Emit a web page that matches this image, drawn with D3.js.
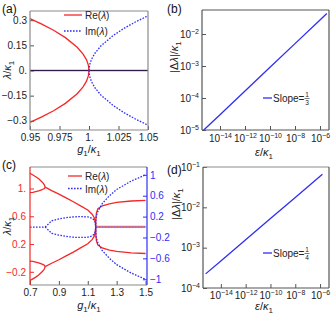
<!DOCTYPE html>
<html lang="en">
<head>
<meta charset="UTF-8">
<title>EP eigenvalues</title>
<script src="https://d3js.org/d3.v7.min.js"></script>
<style>
    body { margin: 0; background: #fff; }
    svg text { font-family: "Liberation Sans", Arial, sans-serif; }
    .tick text { font-size: 10px; }
    .plabel { font-size: 12px; }
    .alabel { font-size: 11px; }
    .leg { font-size: 10px; }
</style>
</head>
<body>
<div id="chart"></div>
<script>
// ---------- panel (a) ----------
var gReA = [0.95, 0.96, 0.97, 0.98, 0.99, 0.995, 0.998, 0.9995, 1.0];
var reUpA = [0.31, 0.277, 0.24, 0.196, 0.139, 0.098, 0.062, 0.031, 0];
var reLoA = [-0.31, -0.277, -0.24, -0.196, -0.139, -0.098, -0.062, -0.031, 0];
var gImA = [1.0, 1.0005, 1.002, 1.005, 1.01, 1.02, 1.03, 1.04, 1.05];
var imUpA = [0, 0.033, 0.065, 0.103, 0.146, 0.206, 0.253, 0.292, 0.326];
var imLoA = [0, -0.033, -0.065, -0.103, -0.146, -0.206, -0.253, -0.292, -0.326];
var gZeroA = [0.95, 1.05];
var xTicksA = [0.95, 0.975, 1, 1.025, 1.05];
var xLabelsA = ["0.95", "0.975", "1.", "1.025", "1.05"];
var yTicksA = [-0.3, -0.15, 0, 0.15, 0.3];
var yLabelsA = ["\u22120.3", "\u22120.15", "0.", "0.15", "0.3"];

// ---------- panel (b) ----------
var epsB = [5e-16, 1e-14, 1e-12, 1e-10, 1e-8, 1e-6, 3.5e-6];
var deltaB = [1.0e-5, 3.0e-5, 1.66e-4, 9.1e-4, 5.0e-3, 2.75e-2, 4.4e-2];
var xExpB = [-14, -12, -10, -8, -6];
var yExpB = [-5, -4, -3, -2];

// ---------- panel (c) ----------
var gPairC = [0.70, 0.72, 0.74, 0.76, 0.78, 0.79, 0.80, 0.805];
var rePairA = [1.22, 1.195, 1.17, 1.14, 1.10, 1.08, 1.05, 1.02];
var rePairB = [0.94, 0.945, 0.955, 0.965, 0.98, 0.99, 1.0, 1.02];
var rePairC = [-0.046, -0.051, -0.061, -0.071, -0.086, -0.096, -0.106, -0.126];
var rePairD = [-0.326, -0.301, -0.276, -0.246, -0.206, -0.186, -0.156, -0.126];
var gMidC = [0.805, 0.85, 0.9, 0.95, 1.0, 1.05, 1.1, 1.13, 1.145, 1.152, 1.155];
var reMidUp = [1.02, 0.97, 0.92, 0.865, 0.81, 0.75, 0.69, 0.63, 0.58, 0.52, 0.447];
var reMidLo = [-0.126, -0.076, -0.026, 0.029, 0.084, 0.144, 0.204, 0.264, 0.314, 0.374, 0.447];
var imMidUp = [0, 0.12, 0.155, 0.18, 0.195, 0.2, 0.195, 0.17, 0.13, 0.08, 0];
var imMidLo = [0, -0.12, -0.155, -0.18, -0.195, -0.2, -0.195, -0.17, -0.13, -0.08, 0];
var gRightC = [1.155, 1.156, 1.16, 1.17, 1.2, 1.25, 1.3, 1.4, 1.5];
var reRightUp = [0.447, 0.56, 0.65, 0.71, 0.75, 0.78, 0.80, 0.82, 0.83];
var reRightLo = [0.447, 0.334, 0.244, 0.184, 0.144, 0.114, 0.094, 0.074, 0.064];
var imRightUp = [0, 0.15, 0.22, 0.3, 0.45, 0.6, 0.72, 0.88, 1.0];
var imRightLo = [0, -0.15, -0.22, -0.3, -0.45, -0.6, -0.72, -0.88, -1.0];
var gFlatReC = [1.155, 1.5];
var reFlatC = [0.447, 0.447];
var gFlatImL = [0.70, 0.805];
var gFlatImR = [1.155, 1.5];
var imFlatC = [0, 0];
var xTicksC = [0.7, 0.9, 1.1, 1.3, 1.5];
var xLabelsC = ["0.7", "0.9", "1.1", "1.3", "1.5"];
var yTicksC = [-0.2, 0.2, 0.6, 1.0];
var yLabelsC = ["\u22120.2", "0.2", "0.6", "1."];
var yTicksC2 = [-1, -0.6, -0.2, 0.2, 0.6, 1];
var yLabelsC2 = ["\u22121", "\u22120.6", "\u22120.2", "0.2", "0.6", "1"];

// ---------- panel (d) ----------
var epsD = [5.9e-16, 1e-14, 1e-12, 1e-10, 1e-8, 1e-6, 1.55e-6];
var deltaD = [2.24e-4, 4.7e-4, 1.58e-3, 5.3e-3, 1.76e-2, 5.9e-2, 6.6e-2];
var xExpD = [-14, -12, -10, -8, -6];
var yExpD = [-4, -3, -2, -1];

var RED = "#f42828";
var BLUE = "#2e2ef5";
var FRAME = "#8a8a8a";

var svg = d3.select("#chart").append("svg")
    .attr("width", 331)
    .attr("height", 315);

function zip(xs, ys) {
    return xs.map(function(x, i) { return [x, ys[i]]; });
}

function curve(x, y, xs, ys, color, dashed, width) {
    var line = d3.line()
        .x(function(d) { return x(d[0]); })
        .y(function(d) { return y(d[1]); });
    svg.append("path")
        .datum(zip(xs, ys))
        .attr("d", line)
        .attr("fill", "none")
        .attr("stroke", color)
        .attr("stroke-width", width || 1.3)
        .attr("stroke-dasharray", dashed ? "1.6,1.4" : null);
}

function frameLine(x1, y1, x2, y2, color) {
    svg.append("line")
        .attr("x1", x1).attr("y1", y1).attr("x2", x2).attr("y2", y2)
        .attr("stroke", color).attr("stroke-width", 1.2);
}

function styleAxis(g, color) {
    g.select(".domain").remove();
    g.selectAll(".tick line").attr("stroke", color || "#555");
    g.selectAll(".tick text").attr("fill", color || "#222");
}

// superscript labels 10^n
function powLabels(g) {
    g.selectAll(".tick text").each(function(d) {
        var t = d3.select(this);
        var e = Math.round(Math.log10(d));
        t.text("10");
        t.append("tspan").attr("dy", -4).attr("font-size", "7px")
            .text(e < 0 ? "\u2212" + (-e) : e);
    });
}

function legendLine(x1, x2, y, color, dashed) {
    svg.append("line")
        .attr("x1", x1).attr("x2", x2).attr("y1", y).attr("y2", y)
        .attr("stroke", color).attr("stroke-width", 1.3)
        .attr("stroke-dasharray", dashed ? "1.6,1.4" : null);
}

function lambdaText(x, y, txt) {
    var t = svg.append("text").attr("class", "leg").attr("x", x).attr("y", y).attr("fill", "#222");
    t.append("tspan").text(txt + "(");
    t.append("tspan").attr("font-style", "italic").text("\u03bb");
    t.append("tspan").text(")");
}

function slopeLegend(x, y, denom) {
    legendLine(x, x + 9, y, BLUE, false);
    svg.append("text").attr("class", "leg").attr("x", x + 10).attr("y", y + 3.5)
        .attr("fill", "#222").text("Slope=");
    var fx = x + 44;
    svg.append("text").attr("x", fx).attr("y", y - 1).attr("font-size", "6.5px")
        .attr("text-anchor", "middle").attr("fill", "#222").text("1");
    svg.append("line").attr("x1", fx - 2.5).attr("x2", fx + 2.5)
        .attr("y1", y + 0.5).attr("y2", y + 0.5).attr("stroke", "#222").attr("stroke-width", 0.6);
    svg.append("text").attr("x", fx).attr("y", y + 6.5).attr("font-size", "6.5px")
        .attr("text-anchor", "middle").attr("fill", "#222").text(denom);
}

function ratioLabel(x, y, rotate, first, firstSub, abs) {
    var t = svg.append("text").attr("class", "alabel")
        .attr("text-anchor", "middle").attr("fill", "#222")
        .attr("transform", "translate(" + x + "," + y + ")" + (rotate ? " rotate(-90)" : ""));
    if (abs) t.append("tspan").text("|\u0394");
    t.append("tspan").attr("font-style", "italic").text(first);
    if (firstSub) t.append("tspan").attr("font-size", "8px").attr("dy", 2.5).text(firstSub);
    t.append("tspan").attr("dy", firstSub ? -2.5 : 0).text(abs ? "|/" : "/");
    t.append("tspan").attr("font-style", "italic").text("\u03ba");
    t.append("tspan").attr("font-size", "8px").attr("dy", 2.5).text("1");
}

function panelLabel(x, y, s) {
    svg.append("text").attr("class", "plabel").attr("x", x).attr("y", y).attr("fill", "#111").text(s);
}

// ================= (a) =================
var xA = d3.scaleLinear().domain([0.95, 1.05]).range([30, 148]);
var yA = d3.scaleLinear().domain([-0.355, 0.355]).range([130, 11]);

svg.append("g").attr("transform", "translate(0,130)")
    .call(d3.axisBottom(xA).tickValues(xTicksA)
        .tickFormat(function(d, i) { return xLabelsA[i]; }).tickSize(-4).tickPadding(4))
    .call(styleAxis);
svg.append("g").attr("transform", "translate(30,0)")
    .call(d3.axisLeft(yA).tickValues(yTicksA)
        .tickFormat(function(d, i) { return yLabelsA[i]; }).tickSize(-4).tickPadding(3))
    .call(styleAxis);

curve(xA, yA, gZeroA, [0, 0], RED, false, 1.4);
curve(xA, yA, gZeroA, [0, 0], "#1a1a4a", false, 0.9);
curve(xA, yA, gReA, reUpA, RED);
curve(xA, yA, gReA, reLoA, RED);
curve(xA, yA, gImA, imUpA, BLUE, true);
curve(xA, yA, gImA, imLoA, BLUE, true);

frameLine(30, 11, 148, 11, FRAME);
frameLine(30, 130, 148, 130, FRAME);
frameLine(30, 11, 30, 130, FRAME);
frameLine(148, 11, 148, 130, FRAME);

legendLine(64, 82, 15, RED, false);
lambdaText(85, 19, "Re");
legendLine(64, 82, 31, BLUE, true);
lambdaText(85, 35, "Im");

panelLabel(2, 13, "(a)");
ratioLabel(11, 70, true, "\u03bb", null, false);
ratioLabel(89, 153, false, "g", "1", false);

// ================= (b) =================
var xB = d3.scaleLog().domain([Math.pow(10, -15.44), Math.pow(10, -5.28)]).range([202, 329]);
var yB = d3.scaleLog().domain([1e-5, Math.pow(10, -1.25)]).range([130, 10]);

svg.append("g").attr("transform", "translate(0,130)")
    .call(d3.axisBottom(xB).tickValues(xExpB.map(function(e) { return Math.pow(10, e); }))
        .tickSize(-4).tickPadding(5))
    .call(styleAxis).call(powLabels);
svg.append("g").attr("transform", "translate(202,0)")
    .call(d3.axisLeft(yB).tickValues(yExpB.map(function(e) { return Math.pow(10, e); }))
        .tickSize(-4).tickPadding(3))
    .call(styleAxis).call(powLabels);

curve(xB, yB, epsB, deltaB, BLUE, false, 1.3);

frameLine(202, 10, 329, 10, "#555");
frameLine(202, 130, 329, 130, "#555");
frameLine(202, 10, 202, 130, "#555");
frameLine(329, 10, 329, 130, "#555");

slopeLegend(263, 98, "3");
panelLabel(167, 13, "(b)");
ratioLabel(178, 57, true, "\u03bb", null, true);
ratioLabel(264, 156, false, "\u03b5", null, false);

// ================= (c) =================
var xC = d3.scaleLinear().domain([0.7, 1.51]).range([30, 147]);
var yC = d3.scaleLinear().domain([-0.39, 1.31]).range([285, 167]);
var yC2 = d3.scaleLinear().domain([-1.11, 1.15]).range([285, 167]);

svg.append("g").attr("transform", "translate(0,285)")
    .call(d3.axisBottom(xC).tickValues(xTicksC)
        .tickFormat(function(d, i) { return xLabelsC[i]; }).tickSize(-4).tickPadding(4))
    .call(styleAxis);
svg.append("g").attr("transform", "translate(30,0)")
    .call(d3.axisLeft(yC).tickValues(yTicksC)
        .tickFormat(function(d, i) { return yLabelsC[i]; }).tickSize(-4).tickPadding(4))
    .call(function(g) { styleAxis(g, RED); });
svg.append("g").attr("transform", "translate(147,0)")
    .call(d3.axisRight(yC2).tickValues(yTicksC2)
        .tickFormat(function(d, i) { return yLabelsC2[i]; }).tickSize(-4).tickPadding(3))
    .call(function(g) { styleAxis(g, BLUE); });

curve(xC, yC, gPairC, rePairA, RED);
curve(xC, yC, gPairC, rePairB, RED);
curve(xC, yC, gPairC, rePairC, RED);
curve(xC, yC, gPairC, rePairD, RED);
curve(xC, yC, gMidC, reMidUp, RED);
curve(xC, yC, gMidC, reMidLo, RED);
curve(xC, yC, gRightC, reRightUp, RED);
curve(xC, yC, gRightC, reRightLo, RED);
curve(xC, yC, gFlatReC, reFlatC, "#f07070", false, 2.2);
curve(xC, yC2, gFlatImL, imFlatC, BLUE, true);
curve(xC, yC2, gFlatImR, imFlatC, "#6a6af5", true, 1.1);
curve(xC, yC2, gMidC, imMidUp, BLUE, true);
curve(xC, yC2, gMidC, imMidLo, BLUE, true);
curve(xC, yC2, gRightC, imRightUp, BLUE, true);
curve(xC, yC2, gRightC, imRightLo, BLUE, true);

frameLine(30, 167, 147, 167, FRAME);
frameLine(30, 285, 147, 285, FRAME);
frameLine(30, 167, 30, 285, RED);
frameLine(147, 167, 147, 285, BLUE);

legendLine(68, 82, 176, RED, false);
lambdaText(85, 180, "Re");
legendLine(68, 82, 188.5, BLUE, true);
lambdaText(85, 192.5, "Im");

panelLabel(2, 169, "(c)");
ratioLabel(11, 226, true, "\u03bb", null, false);
ratioLabel(89, 309, false, "g", "1", false);

// ================= (d) =================
var xD = d3.scaleLog().domain([Math.pow(10, -15.44), Math.pow(10, -5.28)]).range([203, 329]);
var yD = d3.scaleLog().domain([1e-4, 1e-1]).range([288, 167]);

svg.append("g").attr("transform", "translate(0,288)")
    .call(d3.axisBottom(xD).tickValues(xExpD.map(function(e) { return Math.pow(10, e); }))
        .tickSize(-4).tickPadding(4))
    .call(styleAxis).call(powLabels);
svg.append("g").attr("transform", "translate(203,0)")
    .call(d3.axisLeft(yD).tickValues(yExpD.map(function(e) { return Math.pow(10, e); }))
        .tickSize(-4).tickPadding(3))
    .call(styleAxis).call(powLabels);

curve(xD, yD, epsD, deltaD, BLUE, false, 1.3);

frameLine(203, 167, 329, 167, FRAME);
frameLine(203, 288, 329, 288, "#555");
frameLine(203, 167, 203, 288, "#555");
frameLine(329, 167, 329, 288, "#555");

slopeLegend(263, 253, "4");
panelLabel(167, 174, "(d)");
ratioLabel(180, 204, true, "\u03bb", null, true);
ratioLabel(264, 310, false, "\u03b5", null, false);
</script>
</body>
</html>
